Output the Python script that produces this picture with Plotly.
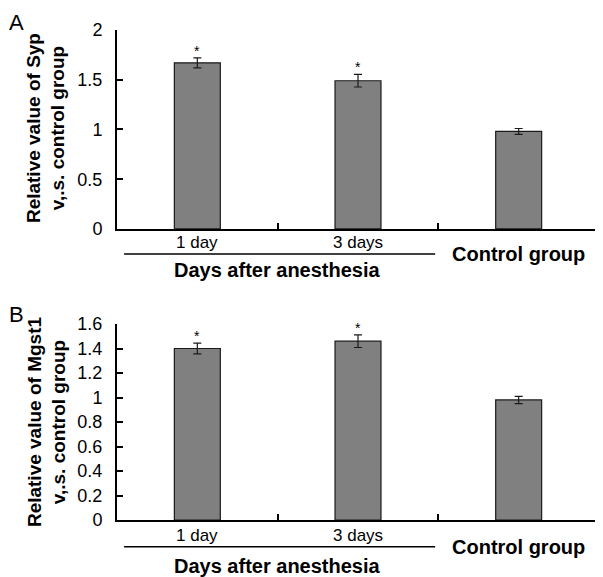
import plotly.graph_objects as go

categories = ["1 day", "3 days", "Control group"]
syp_values = [1.67, 1.49, 0.98]
syp_errors = [0.05, 0.063, 0.03]
mgst1_values = [1.40, 1.46, 0.98]
mgst1_errors = [0.044, 0.052, 0.03]
significant = [True, True, False]
syp_ticks = [0, 0.5, 1, 1.5, 2]
syp_ticktext = ["0", "0.5", "1", "1.5", "2"]
mgst1_ticks = [0, 0.2, 0.4, 0.6, 0.8, 1.0, 1.2, 1.4, 1.6]
mgst1_ticktext = ["0", "0.2", "0.4", "0.6", "0.8", "1", "1.2", "1.4", "1.6"]
group_label = "Days after anesthesia"
panel_labels = ["A", "B"]
ytitles = [["Relative value of Syp", "v,.s. control group"],
           ["Relative value of Mgst1", "v,.s. control group"]]

FONT = "Liberation Sans, Arial, sans-serif"
xpos = [i + 0.5 for i in range(len(categories))]

fig = go.Figure()
panels = [(syp_values, syp_errors, "x", "y"), (mgst1_values, mgst1_errors, "x2", "y2")]
for vals, errs, xa, ya in panels:
    fig.add_trace(go.Bar(
        x=xpos, y=vals, width=0.286, xaxis=xa, yaxis=ya,
        marker=dict(color="#808080", line=dict(color="#1a1a1a", width=1.2)),
        error_y=dict(type="data", array=errs, visible=True, color="#1a1a1a", thickness=1.2, width=4),
        showlegend=False, hoverinfo="skip"))

common_x = dict(range=[0, 3], showline=True, linecolor="black", linewidth=2,
                ticks="inside", ticklen=6, tickwidth=2, tickcolor="black",
                tickvals=[1, 2, 3], showticklabels=False, showgrid=False, zeroline=False,
                fixedrange=True)
common_y = dict(showline=True, linecolor="black", linewidth=2, ticks="inside", ticklen=6,
                tickwidth=2, tickcolor="black", showgrid=False, zeroline=False,
                tickfont=dict(family=FONT, size=18, color="black"), ticklabelstandoff=9)

# page body adds an 8px offset; compensate so the plot lands where the reference has it
fig.update_layout(
    width=595, height=569,
    margin=dict(l=109, r=4, t=22, b=57),
    paper_bgcolor="white", plot_bgcolor="white",
    bargap=0.7,
    xaxis=dict(domain=[0, 1], anchor="y", **common_x),
    yaxis=dict(domain=[0.594, 1.0], anchor="x", range=[0, 2], tickvals=syp_ticks,
               ticktext=syp_ticktext, **common_y),
    xaxis2=dict(domain=[0, 1], anchor="y2", **common_x),
    yaxis2=dict(domain=[0, 0.4], anchor="x2", range=[0, 1.6], tickvals=mgst1_ticks,
                ticktext=mgst1_ticktext, **common_y),
)

ann = []
shapes = []
panel_info = [
    dict(xa="x", ya="y", vals=syp_values, errs=syp_errors, cat_y=0.567, line_y=0.543,
         group_y=0.510, ctrl_y=0.543, letter_y=1.016, title_y=0.80),
    dict(xa="x2", ya="y2", vals=mgst1_values, errs=mgst1_errors, cat_y=-0.031, line_y=-0.0545,
         group_y=-0.094, ctrl_y=-0.055, letter_y=0.42, title_y=0.20),
]
for p, letter, titles in zip(panel_info, panel_labels, ytitles):
    for xv, v, e, s in zip(xpos, p["vals"], p["errs"], significant):
        if s:
            ann.append(dict(x=xv, y=v + e, xref=p["xa"], yref=p["ya"], text="*",
                            showarrow=False, yanchor="bottom", yshift=-3,
                            font=dict(family=FONT, size=14, color="black")))
    for xv, c in zip(xpos[:2], categories[:2]):
        ann.append(dict(x=xv, y=p["cat_y"], xref=p["xa"], yref="paper", text=c,
                        showarrow=False, yanchor="middle",
                        font=dict(family=FONT, size=17, color="black")))
    ann.append(dict(x=xpos[2], y=p["ctrl_y"], xref=p["xa"], yref="paper", text="<b>" + categories[2] + "</b>",
                    showarrow=False, yanchor="middle",
                    font=dict(family=FONT, size=20, color="black")))
    ann.append(dict(x=1.0, y=p["group_y"], xref=p["xa"], yref="paper", text="<b>" + group_label + "</b>",
                    showarrow=False, yanchor="middle",
                    font=dict(family=FONT, size=20, color="black")))
    shapes.append(dict(type="line", xref=p["xa"], yref="paper", x0=0.044, x1=1.98,
                       y0=p["line_y"], y1=p["line_y"], line=dict(color="black", width=1.5)))
    ann.append(dict(x=-0.228, y=p["letter_y"], xref="paper", yref="paper", text=letter,
                    showarrow=False, xanchor="left", yanchor="middle",
                    font=dict(family=FONT, size=22, color="black")))
    ann.append(dict(x=-0.172, y=p["title_y"], xref="paper", yref="paper", text="<b>" + titles[0] + "</b>",
                    textangle=-90, showarrow=False, xanchor="center", yanchor="middle",
                    font=dict(family=FONT, size=19, color="black")))
    ann.append(dict(x=-0.122, y=p["title_y"], xref="paper", yref="paper", text="<b>" + titles[1] + "</b>",
                    textangle=-90, showarrow=False, xanchor="center", yanchor="middle",
                    font=dict(family=FONT, size=19, color="black")))

fig.update_layout(annotations=ann, shapes=shapes)
fig.write_html("out.html")
